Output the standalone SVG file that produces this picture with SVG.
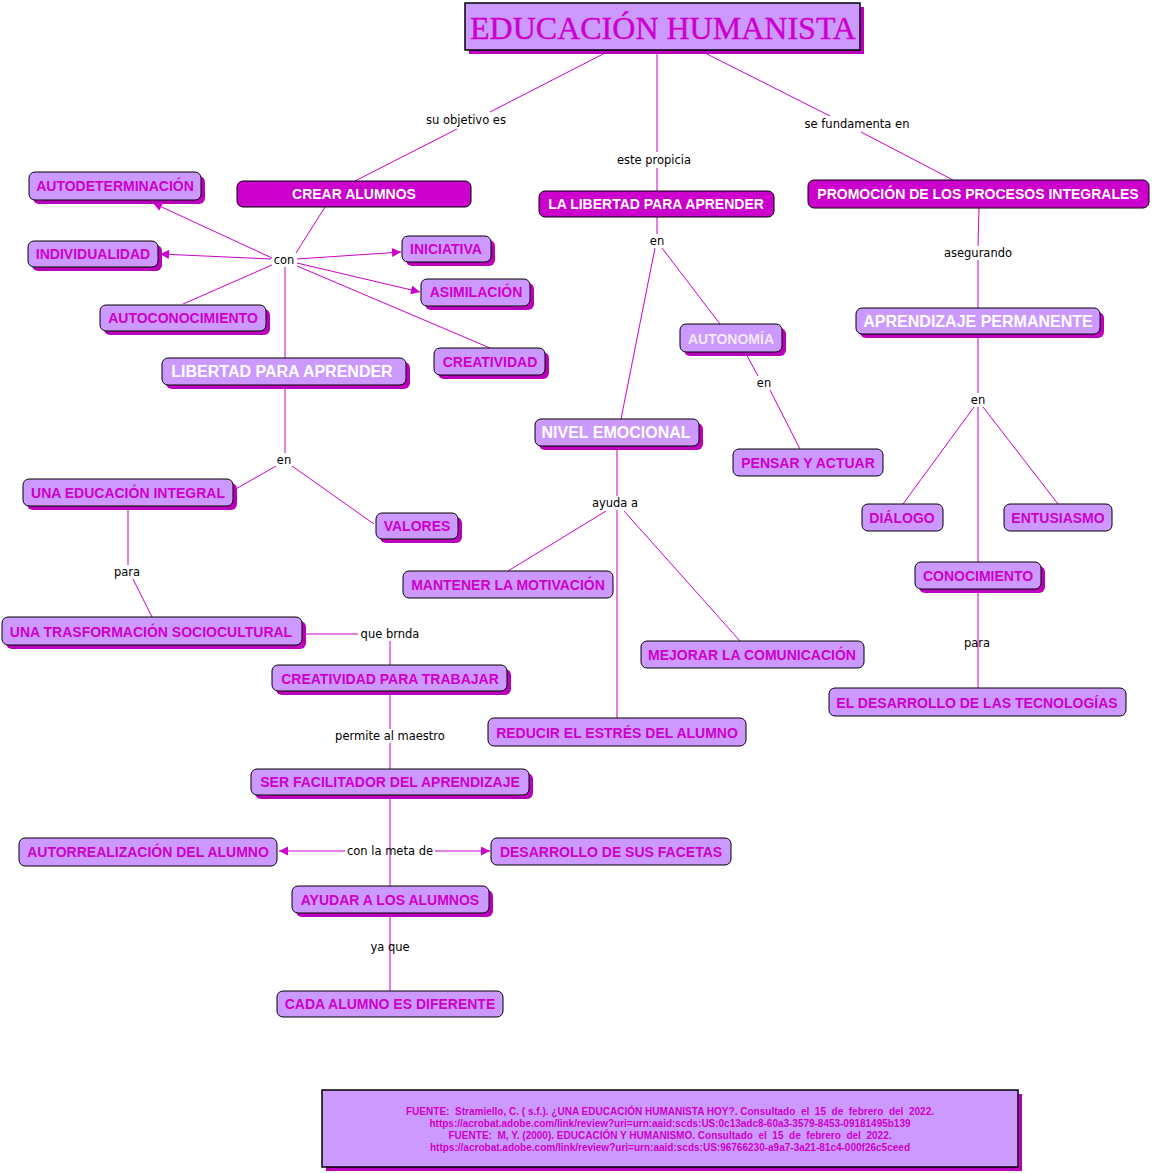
<svg xmlns="http://www.w3.org/2000/svg" width="1152" height="1173" viewBox="0 0 1152 1173">
<style>
.bg{fill:#ffffff}
.sh{fill:#bb00bb}
.n{fill:#cc99ff;stroke:#000;stroke-width:1}
.d{fill:#cc00cc;stroke:#000;stroke-width:1}
.t{font-family:"Liberation Sans",Arial,sans-serif;font-weight:bold;font-size:14px;fill:#cc00cc;text-anchor:middle}
.w{fill:#ffffff}
.big{font-size:16px}
.lbl{font-family:"DejaVu Sans",Verdana,sans-serif;font-size:11.5px;fill:#000;text-anchor:middle}
.c{stroke:#cc00cc;stroke-width:1;fill:none}
.src{font-family:"Liberation Sans",Arial,sans-serif;font-weight:bold;font-size:10px;fill:#cc00cc;text-anchor:middle;white-space:pre}
</style>
<defs>
<marker id="ah" viewBox="0 0 10 10" refX="10" refY="5" markerWidth="10" markerHeight="9" markerUnits="userSpaceOnUse" orient="auto">
<path d="M0,0 L10,5 L0,10 z" fill="#cc00cc"/>
</marker>
</defs>
<rect class="bg" x="0" y="0" width="1152" height="1173"/>

<g id="connectors">
<line class="c" x1="607" y1="52" x2="490" y2="112"/>
<line class="c" x1="457" y1="129" x2="355" y2="181"/>
<line class="c" x1="657" y1="52" x2="657" y2="152"/>
<line class="c" x1="657" y1="168" x2="657" y2="191"/>
<line class="c" x1="703" y1="52" x2="830" y2="116"/>
<line class="c" x1="861" y1="132" x2="953" y2="180"/>

<line class="c" x1="325" y1="207" x2="296" y2="253"/>
<line class="c" x1="272" y1="258" x2="153" y2="203" marker-end="url(#ah)"/>
<line class="c" x1="271" y1="259" x2="160" y2="254" marker-end="url(#ah)"/>
<line class="c" x1="297" y1="259" x2="401" y2="252" marker-end="url(#ah)"/>
<line class="c" x1="297" y1="263" x2="420" y2="292" marker-end="url(#ah)"/>
<line class="c" x1="272" y1="265" x2="183" y2="304"/>
<line class="c" x1="297" y1="266" x2="490" y2="348"/>
<line class="c" x1="285" y1="267" x2="285" y2="358"/>

<line class="c" x1="285" y1="385" x2="285" y2="453"/>
<line class="c" x1="276" y1="466" x2="234" y2="490"/>
<line class="c" x1="292" y1="466" x2="374" y2="524"/>
<line class="c" x1="128" y1="506" x2="128" y2="565"/>
<line class="c" x1="133" y1="579" x2="152" y2="617"/>
<line class="c" x1="302" y1="634" x2="358" y2="634"/>
<line class="c" x1="390" y1="641" x2="390" y2="665"/>
<line class="c" x1="390" y1="691" x2="390" y2="729"/>
<line class="c" x1="390" y1="743" x2="390" y2="769"/>
<line class="c" x1="390" y1="795" x2="390" y2="886"/>
<line class="c" x1="345" y1="851" x2="279" y2="851" marker-end="url(#ah)"/>
<line class="c" x1="435" y1="851" x2="490" y2="851" marker-end="url(#ah)"/>
<line class="c" x1="390" y1="913" x2="390" y2="991"/>

<line class="c" x1="657" y1="217" x2="657" y2="234"/>
<line class="c" x1="655" y1="248" x2="621" y2="419"/>
<line class="c" x1="662" y1="248" x2="720" y2="324"/>
<line class="c" x1="745" y1="352" x2="758" y2="376"/>
<line class="c" x1="770" y1="390" x2="800" y2="449"/>
<line class="c" x1="617" y1="446" x2="617" y2="496"/>
<line class="c" x1="617" y1="510" x2="617" y2="718"/>
<line class="c" x1="606" y1="511" x2="508" y2="571"/>
<line class="c" x1="624" y1="511" x2="740" y2="641"/>

<line class="c" x1="979" y1="208" x2="978" y2="246"/>
<line class="c" x1="978" y1="260" x2="978" y2="308"/>
<line class="c" x1="978" y1="334" x2="978" y2="393"/>
<line class="c" x1="978" y1="407" x2="978" y2="562"/>
<line class="c" x1="974" y1="407" x2="903" y2="504"/>
<line class="c" x1="983" y1="407" x2="1058" y2="504"/>
<line class="c" x1="978" y1="589" x2="978" y2="688"/>

<text class="lbl" x="466" y="124">su objetivo es</text>
<text class="lbl" x="654" y="164">este propicia</text>
<text class="lbl" x="857" y="128">se fundamenta en</text>
<text class="lbl" x="284" y="264">con</text>
<text class="lbl" x="284" y="464">en</text>
<text class="lbl" x="127" y="576">para</text>
<text class="lbl" x="390" y="638">que brnda</text>
<text class="lbl" x="390" y="740">permite al maestro</text>
<text class="lbl" x="390" y="855">con la meta de</text>
<text class="lbl" x="390" y="951">ya que</text>
<text class="lbl" x="657" y="245">en</text>
<text class="lbl" x="764" y="387">en</text>
<text class="lbl" x="615" y="507">ayuda a</text>
<text class="lbl" x="978" y="257">asegurando</text>
<text class="lbl" x="978" y="404">en</text>
<text class="lbl" x="977" y="647">para</text>
</g>

<g id="title">
<rect class="sh" x="469" y="7" width="395" height="47"/>
<rect x="465" y="3" width="395" height="47" fill="#cc99ff" stroke="#000" stroke-width="1.5"/>
<text x="663" y="39" font-family="'Liberation Serif','Times New Roman',serif" font-size="31" fill="#cc00cc" stroke="#cc00cc" stroke-width="0.4" text-anchor="middle" textLength="386" lengthAdjust="spacingAndGlyphs">EDUCACIÓN HUMANISTA</text>
</g>

<g id="crear-alumnos">
<rect class="d" x="237" y="181" width="234" height="26" rx="6"/>
<text class="t w" x="354" y="199">CREAR ALUMNOS</text>
</g>
<g id="la-libertad-para-aprender">
<rect class="d" x="539" y="191" width="235" height="26" rx="6"/>
<text class="t w" x="656" y="209">LA LIBERTAD PARA APRENDER</text>
</g>
<g id="promocion">
<rect class="d" x="808" y="180" width="341" height="28" rx="6"/>
<text class="t w" x="978" y="199">PROMOCIÓN DE LOS PROCESOS INTEGRALES</text>
</g>

<g id="autodeterminacion">
<rect class="sh" x="33" y="176" width="172" height="28" rx="6"/>
<rect class="n" x="29" y="172" width="172" height="28" rx="6"/>
<text class="t" x="115" y="191">AUTODETERMINACIÓN</text>
</g>
<g id="individualidad">
<rect class="sh" x="32" y="245" width="130" height="26" rx="6"/>
<rect class="n" x="28" y="241" width="130" height="26" rx="6"/>
<text class="t" x="93" y="259">INDIVIDUALIDAD</text>
</g>
<g id="iniciativa">
<rect class="sh" x="406" y="240" width="89" height="26" rx="6"/>
<rect class="n" x="402" y="236" width="89" height="26" rx="6"/>
<text class="t" x="446" y="254">INICIATIVA</text>
</g>
<g id="asimilacion">
<rect class="sh" x="425" y="283" width="109" height="27" rx="6"/>
<rect class="n" x="421" y="279" width="109" height="27" rx="6"/>
<text class="t" x="476" y="297">ASIMILACIÓN</text>
</g>
<g id="autoconocimiento">
<rect class="sh" x="104" y="309" width="166" height="26" rx="6"/>
<rect class="n" x="100" y="305" width="166" height="26" rx="6"/>
<text class="t" x="183" y="323">AUTOCONOCIMIENTO</text>
</g>
<g id="creatividad">
<rect class="sh" x="438" y="352" width="111" height="27" rx="6"/>
<rect class="n" x="434" y="348" width="111" height="27" rx="6"/>
<text class="t" x="490" y="367">CREATIVIDAD</text>
</g>
<g id="libertad-para-aprender">
<rect class="sh" x="166" y="362" width="244" height="27" rx="6"/>
<rect class="n" x="162" y="358" width="244" height="27" rx="6"/>
<text class="t w big" x="282" y="377">LIBERTAD PARA APRENDER</text>
</g>
<g id="una-educacion-integral">
<rect class="sh" x="27" y="483" width="210" height="27" rx="6"/>
<rect class="n" x="23" y="479" width="210" height="27" rx="6"/>
<text class="t" x="128" y="498">UNA EDUCACIÓN INTEGRAL</text>
</g>
<g id="valores">
<rect class="sh" x="380" y="517" width="82" height="26" rx="6"/>
<rect class="n" x="376" y="513" width="82" height="26" rx="6"/>
<text class="t" x="417" y="531">VALORES</text>
</g>
<g id="trasformacion">
<rect class="sh" x="6" y="621" width="300" height="28" rx="6"/>
<rect class="n" x="2" y="617" width="300" height="28" rx="6"/>
<text class="t" x="151" y="637">UNA TRASFORMACIÓN SOCIOCULTURAL</text>
</g>
<g id="creatividad-para-trabajar">
<rect class="sh" x="276" y="669" width="235" height="26" rx="6"/>
<rect class="n" x="272" y="665" width="235" height="26" rx="6"/>
<text class="t" x="390" y="684">CREATIVIDAD PARA TRABAJAR</text>
</g>
<g id="ser-facilitador">
<rect class="sh" x="255" y="773" width="278" height="26" rx="6"/>
<rect class="n" x="251" y="769" width="278" height="26" rx="6"/>
<text class="t" x="390" y="787">SER FACILITADOR DEL APRENDIZAJE</text>
</g>
<g id="autorrealizacion">
<rect class="n" x="19" y="838" width="258" height="28" rx="6"/>
<text class="t" x="148" y="857">AUTORREALIZACIÓN DEL ALUMNO</text>
</g>
<g id="desarrollo-facetas">
<rect class="n" x="491" y="838" width="240" height="27" rx="6"/>
<text class="t" x="611" y="857">DESARROLLO DE SUS FACETAS</text>
</g>
<g id="ayudar">
<rect class="sh" x="296" y="890" width="197" height="27" rx="6"/>
<rect class="n" x="292" y="886" width="197" height="27" rx="6"/>
<text class="t" x="390" y="905">AYUDAR A LOS ALUMNOS</text>
</g>
<g id="cada-alumno">
<rect class="n" x="277" y="991" width="226" height="26" rx="6"/>
<text class="t" x="390" y="1009">CADA ALUMNO ES DIFERENTE</text>
</g>

<g id="autonomia">
<rect class="sh" x="684" y="328" width="102" height="28" rx="6"/>
<rect class="n" x="680" y="324" width="102" height="28" rx="6"/>
<text class="t" x="731" y="344" style="fill:#f4e8ff">AUTONOMÍA</text>
</g>
<g id="nivel-emocional">
<rect class="sh" x="539" y="423" width="164" height="27" rx="6"/>
<rect class="n" x="535" y="419" width="164" height="27" rx="6"/>
<text class="t w big" x="616" y="438">NIVEL EMOCIONAL</text>
</g>
<g id="pensar-actuar">
<rect class="n" x="733" y="449" width="150" height="27" rx="6"/>
<text class="t" x="808" y="468">PENSAR Y ACTUAR</text>
</g>
<g id="mantener">
<rect class="n" x="403" y="571" width="210" height="27" rx="6"/>
<text class="t" x="508" y="590">MANTENER LA MOTIVACIÓN</text>
</g>
<g id="mejorar">
<rect class="n" x="641" y="641" width="223" height="27" rx="6"/>
<text class="t" x="752" y="660">MEJORAR LA COMUNICACIÓN</text>
</g>
<g id="reducir">
<rect class="n" x="488" y="718" width="258" height="28" rx="6"/>
<text class="t" x="617" y="738">REDUCIR EL ESTRÉS DEL ALUMNO</text>
</g>

<g id="aprendizaje-permanente">
<rect class="sh" x="860" y="312" width="244" height="26" rx="6"/>
<rect class="n" x="856" y="308" width="244" height="26" rx="6"/>
<text class="t w big" x="978" y="327">APRENDIZAJE PERMANENTE</text>
</g>
<g id="dialogo">
<rect class="n" x="862" y="504" width="81" height="27" rx="6"/>
<text class="t" x="902" y="523">DIÁLOGO</text>
</g>
<g id="entusiasmo">
<rect class="n" x="1004" y="504" width="108" height="27" rx="6"/>
<text class="t" x="1058" y="523">ENTUSIASMO</text>
</g>
<g id="conocimiento">
<rect class="sh" x="919" y="566" width="126" height="27" rx="6"/>
<rect class="n" x="915" y="562" width="126" height="27" rx="6"/>
<text class="t" x="978" y="581">CONOCIMIENTO</text>
</g>
<g id="desarrollo-tecnologias">
<rect class="n" x="829" y="688" width="297" height="28" rx="6"/>
<text class="t" x="977" y="708">EL DESARROLLO DE LAS TECNOLOGÍAS</text>
</g>

<g id="fuente">
<rect class="sh" x="326" y="1094" width="696" height="77"/>
<rect x="322" y="1090" width="696" height="77" fill="#cc99ff" stroke="#000" stroke-width="1.5"/>
<text class="src" x="670" y="1115" textLength="528" lengthAdjust="spacingAndGlyphs">FUENTE:  Stramiello, C. ( s.f.). ¿UNA EDUCACIÓN HUMANISTA HOY?. Consultado  el  15  de  febrero  del  2022.</text>
<text class="src" x="670" y="1127" textLength="481" lengthAdjust="spacingAndGlyphs">https://acrobat.adobe.com/link/review?uri=urn:aaid:scds:US:0c13adc8-60a3-3579-8453-09181495b139</text>
<text class="src" x="670" y="1139" textLength="443" lengthAdjust="spacingAndGlyphs">FUENTE:  M, Y. (2000). EDUCACIÓN Y HUMANISMO. Consultado  el  15  de  febrero  del  2022.</text>
<text class="src" x="670" y="1151" textLength="480" lengthAdjust="spacingAndGlyphs">https://acrobat.adobe.com/link/review?uri=urn:aaid:scds:US:96766230-a9a7-3a21-81c4-000f26c5ceed</text>
</g>
</svg>
